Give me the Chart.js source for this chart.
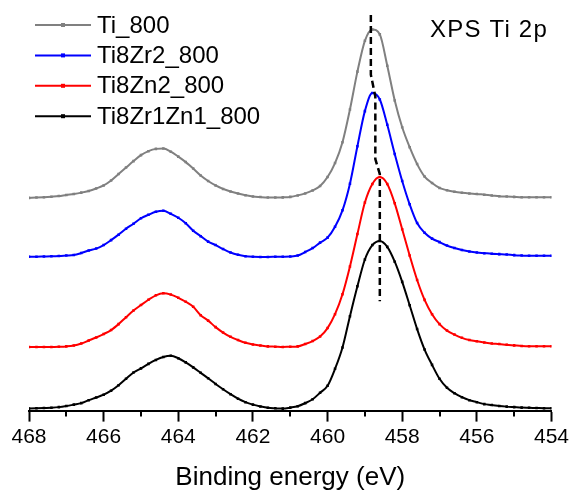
<!DOCTYPE html>
<html>
<head>
<meta charset="utf-8">
<title>XPS Ti 2p</title>
<script src="https://cdn.jsdelivr.net/npm/chart.js@4.4.0/dist/chart.umd.min.js"></script>
<style>
    html, body { margin: 0; padding: 0; background: #fff; }
    .chart-box { width: 572px; height: 493px; }
</style>
</head>
<body>
<div class="chart-box"><canvas id="xpsChart"></canvas></div>
<script>
/* Data: binding energy grid (eV) and intensities (a.u., stacked offsets) */

const energies = [
    468, 467.8, 467.6, 467.4, 467.2, 467, 466.8, 466.6, 466.4, 466.2,
    466, 465.8, 465.6, 465.4, 465.2, 465, 464.8, 464.6, 464.4, 464.2,
    464, 463.8, 463.6, 463.4, 463.2, 463, 462.8, 462.6, 462.4, 462.2,
    462, 461.8, 461.6, 461.4, 461.2, 461, 460.8, 460.6, 460.4, 460.2,
    460, 459.8, 459.6, 459.4, 459.2, 459, 458.8, 458.6, 458.4, 458.2,
    458, 457.8, 457.6, 457.4, 457.2, 457, 456.8, 456.6, 456.4, 456.2,
    456, 455.8, 455.6, 455.4, 455.2, 455, 454.8, 454.6, 454.4, 454.2,
    454,
];

const ti800 = [
    214, 214.3, 214.7, 215.2, 215.8, 217, 218, 219.3, 221, 223.5,
    226.5, 231.5, 238, 244.5, 251, 257, 261, 263.3, 263.7, 260.5,
    255.5, 250, 243.5, 236.5, 231, 226.5, 223, 220.5, 218.5, 216.7,
    215.3, 214.8, 214.4, 214.3, 214.5, 215, 216.5, 218.5, 221.5, 226,
    235, 249, 270, 303, 341, 372, 383.5, 378.5, 347, 312,
    285, 265, 248, 235.5, 229, 224, 221.7, 220.2, 219.2, 218.5,
    218, 217.2, 216.5, 215.7, 215.3, 215, 214.7, 214.7, 214.7, 214.7,
    214.7,
];

const ti8zr2 = [
    154.7, 154.8, 155, 155.2, 155.5, 156, 156.5, 158.5, 161, 163,
    166.5, 171.5, 177, 183, 188, 193.5, 197, 200, 201, 198,
    194, 188.5, 181, 175.5, 170, 166.5, 162.5, 159, 156.7, 155.3,
    154.7, 154.6, 154.6, 154.7, 154.8, 155, 156, 159.5, 163.5, 169,
    174, 185, 201.5, 228.3, 266, 301.3, 319.5, 313, 287.5, 258.2,
    231, 207.5, 188.7, 178.9, 173, 169.5, 166, 163.5, 161.5, 160,
    159, 158.4, 157.8, 157.4, 157, 156.4, 156, 155.7, 155.7, 155.7,
    155.7,
];

const ti8zn2 = [
    64, 64, 64, 64, 64.2, 64.6, 65.5, 67.5, 70.5, 73.5,
    77, 81, 87, 94, 100.7, 106.2, 111.5, 116, 118, 116.7,
    113.5, 109.5, 104.5, 96, 90.5, 84, 78.5, 74.2, 71, 68.2,
    66.5, 65.5, 64.6, 64.3, 64, 64.3, 64.6, 67, 70, 74.5,
    83, 97, 117, 145, 177.6, 209.3, 228, 235, 228, 208.5,
    182.4, 156, 131.4, 111.4, 97, 87, 80.5, 76.5, 73.2, 71,
    69.7, 68.6, 67.6, 67, 66.2, 65.6, 65, 64.7, 64.7, 64.7,
    64.7,
];

const ti8zr1zn1 = [
    2, 2.3, 2.6, 2.9, 3.5, 4.6, 6, 7.5, 10.5, 13.2,
    16, 20, 25.5, 32, 38.3, 42.5, 47, 51, 54, 55.1,
    52.7, 48.5, 43.5, 38, 32.5, 26.8, 21.5, 16.5, 12, 8.5,
    6, 4.2, 2.8, 2.3, 2, 3, 4.4, 7.5, 11.4, 18,
    25, 42, 63.5, 95, 125, 152, 166.5, 170.7, 164.7, 149.8,
    129.5, 106, 82, 61.4, 46, 32, 23, 17.5, 13.5, 10.5,
    8.5, 6.5, 5.7, 4.7, 4, 3.5, 3, 2.8, 2.6, 2.4,
    2.3,
];

// dashed guide through the Ti 2p3/2 peak maxima
const guideE = [458.84, 458.84, 458.72, 458.72, 458.6, 458.6];
const guideY = [398, 338, 316, 253, 238, 110];

const seriesNames = ['Ti_800', 'Ti8Zr2_800', 'Ti8Zn2_800', 'Ti8Zr1Zn1_800'];
const seriesValues = [ti800, ti8zr2, ti8zn2, ti8zr1zn1];
const seriesColors = ['#808080', '#0000ff', '#ff0000', '#000000'];

const minorTicks = [467, 465, 463, 461, 459, 457, 455];
const spectrumLabel = 'XPS Ti 2p';

const FONT = '"Liberation Sans", Arial, sans-serif';

/* Extra drawing: minor ticks, in-plot legend, panel label */

const decorPlugin = {
    id: 'decor',
    afterDraw(chart) {
        const { ctx, chartArea, scales } = chart;
        ctx.save();

        // minor ticks
        ctx.strokeStyle = '#000';
        ctx.lineWidth = 2;
        ctx.beginPath();
        minorTicks.forEach(v => {
            const px = Math.round(scales.x.getPixelForValue(v));
            ctx.moveTo(px, chartArea.bottom);
            ctx.lineTo(px, chartArea.bottom + 6);
        });
        ctx.stroke();

        // legend
        ctx.font = `24px ${FONT}`;
        ctx.textBaseline = 'middle';
        ctx.textAlign = 'left';
        seriesNames.forEach((name, i) => {
            const y = 25 + i * 30.4;
            ctx.strokeStyle = seriesColors[i];
            ctx.lineWidth = 2;
            ctx.beginPath();
            ctx.moveTo(35, y);
            ctx.lineTo(91, y);
            ctx.stroke();
            ctx.fillStyle = seriesColors[i];
            ctx.fillRect(61, y - 2, 4, 4);
            ctx.fillStyle = '#000';
            ctx.fillText(name, 97, y + 1);
        });

        // panel label
        ctx.font = `24px ${FONT}`;
        ctx.textBaseline = 'alphabetic';
        ctx.textAlign = 'left';
        if ('letterSpacing' in ctx) ctx.letterSpacing = '1.2px';
        ctx.fillText(spectrumLabel, 430, 37);

        ctx.restore();
    },
};

/* Chart */

const datasets = seriesNames.map((name, i) => ({
    label: name,
    data: energies.map((e, k) => ({ x: e, y: seriesValues[i][k] })),
    borderColor: seriesColors[i],
    backgroundColor: seriesColors[i],
    borderWidth: 2,
    pointStyle: 'rect',
    pointRadius: 1.8,
    pointBorderWidth: 0,
    cubicInterpolationMode: 'monotone',
    order: 1,
}));

datasets.push({
    label: '',
    data: guideE.map((e, k) => ({ x: e, y: guideY[k] })),
    borderColor: '#000',
    borderWidth: 2.5,
    borderDash: [7, 4],
    pointRadius: 0,
    tension: 0,
    order: 0,
});

new Chart(document.getElementById('xpsChart'), {
    type: 'line',
    data: { datasets },
    plugins: [decorPlugin],
    options: {
        responsive: true,
        maintainAspectRatio: false,
        animation: false,
        devicePixelRatio: 1,
        layout: { padding: { left: 29, right: 19, top: 13, bottom: 0 } },
        plugins: {
            legend: { display: false },
            tooltip: { enabled: false },
        },
        scales: {
            x: {
                type: 'linear',
                min: 454,
                max: 468,
                reverse: true,
                border: { display: true, color: '#000', width: 2 },
                grid: {
                    drawOnChartArea: false,
                    drawTicks: true,
                    tickLength: 11,
                    tickWidth: 2,
                    tickColor: '#000',
                },
                ticks: {
                    stepSize: 2,
                    autoSkip: false,
                    maxRotation: 0,
                    padding: 3,
                    color: '#000',
                    font: { family: FONT, size: 21 },
                },
                title: {
                    display: true,
                    text: 'Binding energy (eV)',
                    color: '#000',
                    font: { family: FONT, size: 26 },
                    padding: { top: 9, bottom: 0 },
                },
            },
            y: {
                display: false,
                min: 0,
                max: 400,
            },
        },
    },
});
</script>
</body>
</html>
